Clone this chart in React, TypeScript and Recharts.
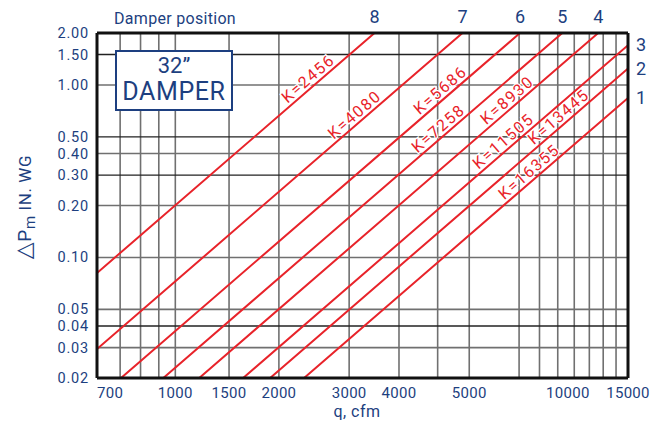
import React from "react";
import {
  LineChart,
  Line,
  XAxis,
  YAxis,
  CartesianGrid,
  Label,
} from "recharts";

const BLUE = "#1d3f80";
const RED = "#e8232a";
const FONT = "Roboto, 'DejaVu Sans', sans-serif";

// damper loss coefficients, one red line each: dP = (q / K)^2
const kValues = [2456, 4080, 5686, 7258, 8930, 11505, 13445, 16355];
// flow where each "K=..." tag sits along its line
const labelQ = [2450, 3200, 5250, 5190, 7720, 7560, 10400, 8760];

// damper positions printed where lines leave the plot (top edge, then right edge)
const damperTop = ["8", "7", "6", "5", "4"];
const damperRight = ["3", "2", "1"];

const qMin = 700;
const qMax = 15000;
const pMin = 0.02;
const pMax = 2;

const yTicks = [0.02, 0.03, 0.04, 0.05, 0.1, 0.2, 0.3, 0.4, 0.5, 1, 1.5, 2];
// the reference prints its flow labels at these spots
const xLabelAt = [700, 1100, 1500, 2000, 3000, 4000, 6000, 10600, 15000];
const xLabels = ["700", "1000", "1500", "2000", "3000", "4000", "5000", "10000", "15000"];

const gridX = [800, 900, 1000, 1100, 1500, 2000, 3000, 4000, 5000, 6000, 8000, 9000, 10000, 11000, 12000, 13000, 14000];
const gridYLight = [0.03, 0.05, 0.1, 0.2, 0.4, 1];
const gridYDark = [0.04, 0.3, 0.5, 1.5];

function lineData(k: number, qTag: number) {
  const q0 = Math.max(qMin, k * Math.sqrt(pMin));
  const q1 = Math.min(qMax, k * Math.sqrt(pMax));
  return [q0, qTag, q1].map((q) => ({ q, p: (q / k) ** 2, tag: q === qTag }));
}

const topTicks = kValues.slice(0, damperTop.length).map((k) => k * Math.SQRT2);
const rightTicks = kValues.slice(damperTop.length).map((k) => (qMax / k) ** 2);

const BottomTick = (props: any) => {
  const { x, y, payload } = props;
  const i = xLabelAt.indexOf(payload.value);
  return (
    <text x={x} y={y} dy={12} textAnchor={i === 0 ? "start" : "middle"} fill={BLUE} fontSize={15} fontFamily={FONT} letterSpacing={0.3}>
      {xLabels[i]}
    </text>
  );
};

const TopTick = (props: any) => {
  const { x, y, index } = props;
  return (
    <text x={x} y={y} dy={-2} textAnchor="middle" fill={BLUE} fontSize={18} fontFamily={FONT}>
      {damperTop[index]}
    </text>
  );
};

const RightTick = (props: any) => {
  const { x, y, index } = props;
  return (
    <text x={x} y={y} dy={6} textAnchor="start" fill={BLUE} fontSize={18} fontFamily={FONT}>
      {damperRight[index]}
    </text>
  );
};

const LeftTick = (props: any) => {
  const { x, y, payload } = props;
  return (
    <text x={x} y={y} dy={5} textAnchor="end" fill={BLUE} fontSize={14.5} fontFamily={FONT} letterSpacing={0.8}>
      {Number(payload.value).toFixed(2)}
    </text>
  );
};

const makeTag = (k: number) => (props: any) => {
  const { cx, cy, payload, index } = props;
  if (!payload || !payload.tag) return <g key={`d${k}-${index}`} />;
  return (
    <text
      key={`d${k}-${index}`}
      transform={`translate(${cx},${cy}) rotate(-40.8)`}
      y={-3.5}
      textAnchor="middle"
      fill={RED}
      stroke="#fff"
      strokeWidth={2.5}
      paintOrder="stroke"
      fontSize={16}
      letterSpacing={1.6}
      fontFamily={FONT}
    >
      K={k}
    </text>
  );
};

export default function App() {
  return (
    <div style={{ position: "absolute", left: 0, top: 0, width: 663, height: 426, background: "#fff" }}>
      <LineChart width={663} height={426} margin={{ top: 0, right: 0, bottom: 0, left: 0 }}>
        <CartesianGrid
          stroke="#707070"
          strokeWidth={1.6}
          verticalValues={gridX}
          horizontalValues={gridYLight}
        />
        <CartesianGrid
          stroke="#222"
          strokeWidth={1.4}
          vertical={false}
          horizontalValues={gridYDark}
        />
        <XAxis
          dataKey="q"
          type="number"
          scale="log"
          domain={[qMin, qMax]}
          allowDataOverflow
          ticks={xLabelAt}
          interval={0}
          tick={<BottomTick />}
          tickLine={false}
          height={48}
          axisLine={{ stroke: "#111", strokeWidth: 3 }}
        >
          <Label
            content={() => (
              <text x={357} y={417} textAnchor="middle" fill={BLUE} fontSize={16} fontFamily={FONT} letterSpacing={0.5}>
                q, cfm
              </text>
            )}
          />
        </XAxis>
        <XAxis
          xAxisId="top"
          orientation="top"
          dataKey="q"
          type="number"
          scale="log"
          domain={[qMin, qMax]}
          allowDataOverflow
          ticks={topTicks}
          interval={0}
          tick={<TopTick />}
          tickLine={false}
          height={33}
          axisLine={{ stroke: "#111", strokeWidth: 3 }}
        >
          <Label
            content={() => (
              <text x={114} y={24} fill={BLUE} fontSize={16} fontFamily={FONT} letterSpacing={0.3}>
                Damper position
              </text>
            )}
          />
        </XAxis>
        <YAxis
          dataKey="p"
          type="number"
          scale="log"
          domain={[pMin, pMax]}
          allowDataOverflow
          ticks={yTicks}
          interval={0}
          tick={<LeftTick />}
          tickLine={false}
          width={97}
          axisLine={{ stroke: "#111", strokeWidth: 3 }}
        >
          <Label
            content={() => (
              <g transform="translate(31,207) rotate(-90)">
                <text x={0} y={0} textAnchor="middle" fill={BLUE} fontSize={17} fontFamily={FONT} letterSpacing={0.6}>
                  <tspan fontSize={22}>△</tspan>
                  <tspan fontSize={19}>P</tspan>
                  <tspan dy={4} fontSize={15}>m</tspan>
                  <tspan dy={-4}>{"  IN. WG"}</tspan>
                </text>
              </g>
            )}
          />
        </YAxis>
        <YAxis
          yAxisId="right"
          orientation="right"
          dataKey="p"
          type="number"
          scale="log"
          domain={[pMin, pMax]}
          allowDataOverflow
          ticks={rightTicks}
          interval={0}
          tick={<RightTick />}
          tickLine={false}
          width={35}
          axisLine={{ stroke: "#111", strokeWidth: 3 }}
        />
        {kValues.map((k, i) => (
          <Line
            key={k}
            data={lineData(k, labelQ[i])}
            dataKey="p"
            type="linear"
            stroke={RED}
            strokeWidth={2}
            dot={makeTag(k)}
            activeDot={false}
            isAnimationActive={false}
          />
        ))}
      </LineChart>
      <div
        style={{
          position: "absolute",
          left: 115,
          top: 50,
          width: 114,
          height: 57,
          border: `2.5px solid ${BLUE}`,
          background: "#fff",
          color: BLUE,
          fontFamily: FONT,
          textAlign: "center",
        }}
      >
        <div style={{ fontSize: 22, lineHeight: "24px", marginTop: 2 }}>32”</div>
        <div style={{ fontSize: 25, lineHeight: "28px", letterSpacing: 0.6 }}>DAMPER</div>
      </div>
    </div>
  );
}
